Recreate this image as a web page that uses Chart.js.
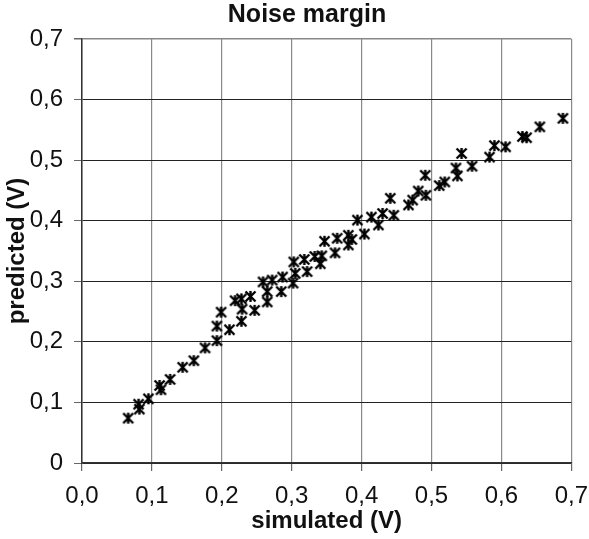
<!DOCTYPE html>
<html>
<head>
<meta charset="utf-8">
<script src="https://cdn.jsdelivr.net/npm/chart.js@4.4.1/dist/chart.umd.min.js"></script>
<style>
  html, body { margin: 0; padding: 0; background: #fff; }
  #wrap { position: relative; width: 589px; height: 539px; }
</style>
</head>
<body>
<div id="wrap"><canvas id="noise"></canvas></div>
<script>
// simulated vs predicted noise margin (V)
const simulated = [
  0.066, 0.081, 0.082, 0.095, 0.111, 0.113, 0.126, 0.144, 0.160, 0.176,
  0.193, 0.193, 0.199, 0.211, 0.219, 0.228, 0.229, 0.228, 0.241, 0.247,
  0.259, 0.265, 0.265, 0.272, 0.285, 0.287, 0.302, 0.303, 0.305, 0.318,
  0.322, 0.333, 0.341, 0.343, 0.347, 0.362, 0.365, 0.381, 0.381, 0.386,
  0.394, 0.404, 0.414, 0.424, 0.430, 0.441, 0.446, 0.467, 0.473, 0.481,
  0.492, 0.491, 0.511, 0.519, 0.535, 0.537, 0.543, 0.558, 0.583, 0.590,
  0.606, 0.630, 0.636, 0.655, 0.688
];
const predicted = [
  0.074, 0.097, 0.089, 0.106, 0.128, 0.121, 0.138, 0.158, 0.169, 0.190,
  0.202, 0.226, 0.249, 0.220, 0.268, 0.234, 0.254, 0.271, 0.275, 0.252,
  0.299, 0.266, 0.283, 0.302, 0.283, 0.307, 0.297, 0.332, 0.313, 0.336,
  0.316, 0.341, 0.329, 0.342, 0.366, 0.347, 0.371, 0.360, 0.376, 0.369,
  0.401, 0.378, 0.406, 0.393, 0.412, 0.437, 0.409, 0.426, 0.434, 0.449,
  0.442, 0.475, 0.458, 0.464, 0.487, 0.474, 0.511, 0.490, 0.505, 0.524,
  0.522, 0.539, 0.537, 0.555, 0.569
];
const xTickLabels = ['0,0', '0,1', '0,2', '0,3', '0,4', '0,5', '0,6', '0,7'];
const yTickLabels = ['0', '0,1', '0,2', '0,3', '0,4', '0,5', '0,6', '0,7'];

// asterisk marker like the spreadsheet "star"
function starMarker() {
  const c = document.createElement('canvas');
  c.width = 13; c.height = 13;
  const g = c.getContext('2d');
  g.strokeStyle = '#000';
  g.lineWidth = 2.4;
  g.beginPath();
  g.moveTo(1.5, 1.5); g.lineTo(11.5, 11.5);
  g.moveTo(11.5, 1.5); g.lineTo(1.5, 11.5);
  g.moveTo(6.5, 1); g.lineTo(6.5, 12);
  g.stroke();
  return c;
}

const points = simulated.map((x, i) => ({ x, y: predicted[i] }));
const font = 'Liberation Sans, Arial, sans-serif';
const isTop = ctx => ctx.tick && Math.abs(ctx.tick.value - 0.7) < 1e-6;

new Chart(document.getElementById('noise'), {
  type: 'scatter',
  data: {
    datasets: [{
      data: points,
      pointStyle: starMarker(),
      pointRadius: 6,
      pointHoverRadius: 6
    }]
  },
  options: {
    responsive: true,
    maintainAspectRatio: false,
    animation: false,
    layout: { padding: { left: 25, right: 0, top: 0, bottom: 0 } },
    plugins: {
      legend: { display: false },
      tooltip: { enabled: false },
      title: {
        display: true,
        text: 'Noise margin',
        color: '#111',
        font: { family: font, size: 25, weight: 'bold' },
        padding: { top: 0, bottom: 9 }
      }
    },
    scales: {
      x: {
        type: 'linear',
        min: 0, max: 0.7,
        afterFit: s => { s.height = 76; },
        border: { display: true, color: '#333', width: 1.5 },
        grid: { color: '#888', tickColor: '#666', tickLength: 8, lineWidth: 1.2 },
        ticks: {
          stepSize: 0.1,
          padding: 1,
          color: '#111',
          font: { family: font, size: 24, lineHeight: 2.05 },
          callback: (v, i) => xTickLabels[i]
        },
        title: {
          display: true,
          text: 'simulated (V)',
          color: '#111',
          font: { family: font, size: 24, weight: 'bold' },
          padding: { top: 0, bottom: 3 }
        }
      },
      y: {
        type: 'linear',
        min: 0, max: 0.7,
        afterFit: s => { s.width = 57; },
        border: { display: true, color: '#333', width: 1.5 },
        grid: {
          color: ctx => isTop(ctx) ? '#888' : '#222',
          tickColor: '#666',
          tickLength: 8,
          lineWidth: ctx => isTop(ctx) ? 1.5 : 1
        },
        ticks: {
          stepSize: 0.1,
          padding: 11,
          color: '#111',
          font: { family: font, size: 24 },
          callback: (v, i) => yTickLabels[i]
        },
        title: {
          display: true,
          text: 'predicted (V)',
          color: '#111',
          font: { family: font, size: 24, weight: 'bold' },
          padding: { top: -22, bottom: 0 }
        }
      }
    }
  }
});
</script>
</body>
</html>
